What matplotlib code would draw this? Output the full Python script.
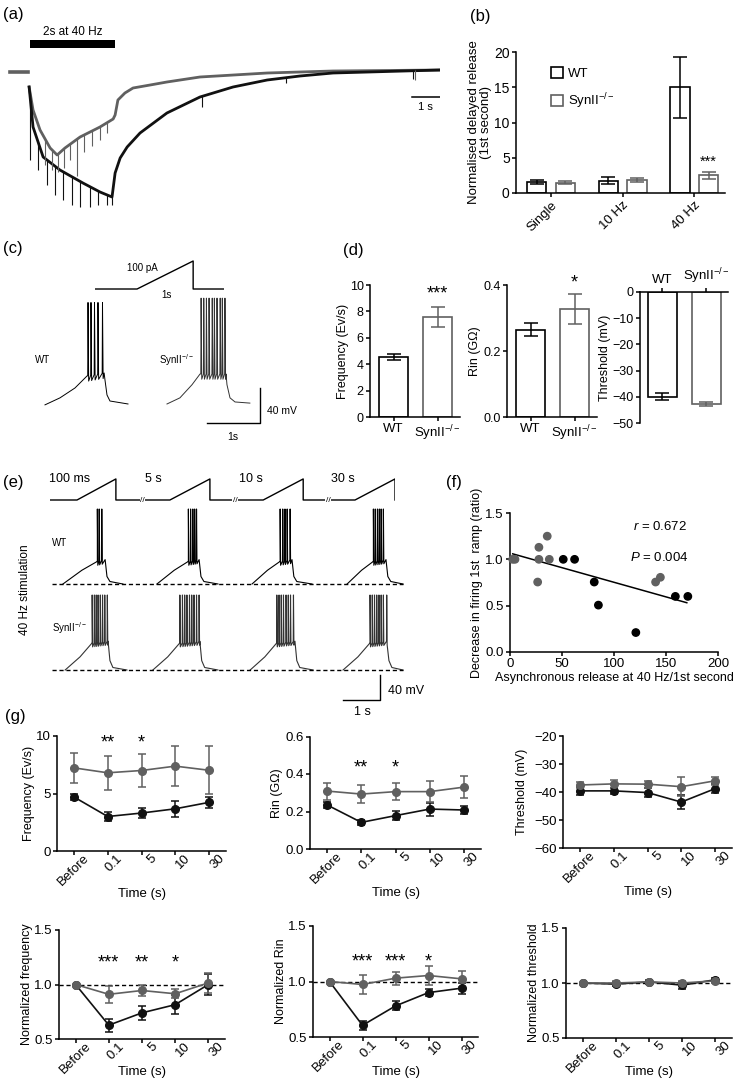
import numpy as np
import matplotlib
matplotlib.use("Agg")
import matplotlib.pyplot as plt
from matplotlib.patches import Patch, Rectangle
from matplotlib.transforms import ScaledTranslation

plt.rcParams["font.family"] = ["Liberation Sans", "DejaVu Sans"]
plt.rcParams["mathtext.fontset"] = "custom"
plt.rcParams["mathtext.rm"] = "Liberation Sans"
plt.rcParams["mathtext.it"] = "Liberation Sans:italic"
plt.rcParams["mathtext.default"] = "regular"
plt.rcParams["font.size"] = 9
plt.rcParams["axes.linewidth"] = 1.1
plt.rcParams["xtick.major.width"] = 1.1
plt.rcParams["ytick.major.width"] = 1.1
plt.rcParams["xtick.major.size"] = 3
plt.rcParams["ytick.major.size"] = 3
plt.rcParams["xtick.major.pad"] = 1.5
plt.rcParams["ytick.major.pad"] = 1.5

W, H = 734, 1082
GRAY = "#606060"
KO = "SynII$^{-/-}$"

# ---------------- data ----------------
# (a) delayed release: key points of the two current traces (s, pA)
A_BASE_T = [0.36, 1.0]
A_GRAY_T = [1.04, 1.18, 1.43, 1.79, 2.04, 2.32, 2.86, 3.57, 4.04, 4.11, 4.21, 4.46, 4.75,
            5.36, 5.96, 7.14, 9.54, 11.89, 15.71]
A_GRAY_I = [-30, -76, -116, -152, -166, -152, -130, -110, -94, -86, -56, -42, -32,
            -26, -20, -10, -2, 2, 4]
A_BLACK_T = [1.04, 1.18, 1.54, 2.14, 2.96, 3.57, 4.0, 4.11, 4.29, 4.54, 5.0, 5.96, 7.14,
             8.32, 9.54, 10.71, 11.89, 15.71]
A_BLACK_I = [-30, -110, -170, -196, -222, -240, -250, -202, -172, -150, -122, -82, -50,
             -30, -16, -8, -2, 4]
# tips of the stimulus artefacts / events
A_GRAY_ART_T = [1.61, 1.86, 2.07, 2.29, 2.5, 2.75, 3.0, 3.29, 3.57, 3.82, 14.82]
A_GRAY_ART_I = [-186, -196, -200, -192, -176, -208, -160, -148, -136, -122, -16]
A_BLACK_ART_T = [1.07, 1.36, 1.68, 1.96, 2.25, 2.57, 2.86, 3.21, 3.5, 3.82, 4.0, 7.21, 10.2, 14.75]
A_BLACK_ART_I = [-176, -196, -226, -246, -256, -266, -270, -270, -266, -266, -266, -70, -22, -14]
A_STIM = (1.07, 4.11)

# (b) normalised delayed release
B_GROUPS = ["Single", "10 Hz", "40 Hz"]
B_WT = [1.55, 1.75, 15.0]
B_WT_ERR = [0.25, 0.5, 4.3]
B_KO = [1.45, 1.85, 2.5]
B_KO_ERR = [0.2, 0.3, 0.5]

# (c) ramp protocol and responses (s, pA / mV)
C_PROT_T = [0, 0.75, 1.75, 1.75, 2.30]
C_PROT_I = [0, 0, 100, 0, 0]
C_WT_T = [0.094, 0.377, 0.66, 0.887, 1.21, 1.226, 1.264, 1.32, 1.66]
C_WT_V = [-71, -63, -51.7, -38, -34.6, -42.6, -59.7, -66.6, -70]
C_WT_SPIKES = [0.906, 0.962, 1.028, 1.094, 1.179]
C_KO_T = [2.396, 2.64, 2.868, 3.02, 3.51, 3.528, 3.585, 3.68, 3.96]
C_KO_V = [-70, -63, -48, -35.7, -35.7, -48, -63, -67.7, -69]
C_KO_SPIKES = [3.04, 3.09, 3.14, 3.19, 3.25, 3.29, 3.34, 3.40, 3.44, 3.49]

# (d) firing properties
D_GENO = ["WT", KO]
D_FREQ = [4.55, 7.6]
D_FREQ_ERR = [0.25, 0.75]
D_RIN = [0.265, 0.327]
D_RIN_ERR = [0.02, 0.045]
D_THR = [-40.0, -42.8]
D_THR_ERR = [1.3, 0.7]

# (e) repeated ramps after 40 Hz stimulation
E_PROT_T = [0, 0.73, 1.78, 1.78, 3.24, 4.32, 4.32, 5.76, 6.84, 6.84, 8.24, 9.32, 9.32]
E_PROT_I = [0, 0, 100, 0, 0, 100, 0, 0, 100, 0, 0, 100, 0]
E_BREAKS = [2.49, 5.0, 7.51]
E_LABELS = ["100 ms", "5 s", "10 s", "30 s"]
E_LABEL_T = [0.54, 2.78, 5.43, 7.92]
E_WT_START = [0.35, 2.89, 5.46, 8.03]
E_WT_DROP = [1.49, 4.03, 6.54, 9.08]
E_WT_END = [1.97, 4.54, 7.08, 9.54]
E_WT_SPIKES = [[1.28, 1.33, 1.40],
               [3.74, 3.80, 3.86, 3.91, 3.96],
               [6.22, 6.29, 6.35, 6.41, 6.49],
               [8.74, 8.79, 8.85, 8.90, 8.95, 9.01]]
E_KO_START = [0.41, 2.78, 5.41, 7.92]
E_KO_DROP = [1.57, 4.05, 6.62, 9.11]
E_KO_END = [2.08, 4.54, 7.11, 9.54]
E_KO_SPIKES = [[1.14, 1.20, 1.25, 1.30, 1.36, 1.42, 1.48, 1.55],
               [3.51, 3.58, 3.64, 3.70, 3.77, 3.83, 3.89, 3.96, 4.03],
               [6.13, 6.19, 6.25, 6.31, 6.38, 6.44, 6.50, 6.58],
               [8.65, 8.71, 8.77, 8.83, 8.89, 8.95, 9.01, 9.10]]
E_WT_SHAPE = [-70, -48, -34, -31, -58, -66, -70]
E_KO_SHAPE = [-70, -49, -27, -24, -55, -66, -70]
E_KO_OFFSET = -137.6

# (f) correlation
F_X = [2.6, 4.8, 27.8, 27.8, 26.6, 35.8, 37.8, 51.2, 62.1, 81, 85, 121, 140, 144.6, 159, 171]
F_Y = [1.0, 1.0, 1.13, 1.0, 0.755, 1.25, 1.0, 1.0, 1.0, 0.755, 0.506, 0.21, 0.755, 0.806, 0.60, 0.60]
F_SHADE = [GRAY] * 7 + ["black"] * 5 + [GRAY] * 2 + ["black"] * 2

# (g) time course
G_TIMES = ["Before", "0.1", "5", "10", "30"]
G_FREQ_WT = [4.7, 3.0, 3.3, 3.67, 4.23]
G_FREQ_WT_ERR = [0.3, 0.35, 0.4, 0.7, 0.45]
G_FREQ_KO = [7.23, 6.8, 7.0, 7.38, 7.02]
G_FREQ_KO_ERR = [1.32, 1.5, 1.46, 1.74, 2.1]
G_RIN_WT = [0.235, 0.142, 0.178, 0.213, 0.208]
G_RIN_WT_ERR = [0.015, 0.012, 0.025, 0.035, 0.022]
G_RIN_KO = [0.309, 0.293, 0.306, 0.306, 0.33]
G_RIN_KO_ERR = [0.045, 0.05, 0.045, 0.055, 0.06]
G_THR_WT = [-39.6, -39.6, -40.2, -43.6, -38.8]
G_THR_WT_ERR = [1.5, 1.0, 1.5, 2.5, 1.5]
G_THR_KO = [-37.5, -37.1, -37.2, -38.1, -36.0]
G_THR_KO_ERR = [1.2, 1.3, 1.3, 3.5, 1.5]
G_NFREQ_WT = [1.0, 0.627, 0.74, 0.815, 1.0]
G_NFREQ_WT_ERR = [0, 0.06, 0.065, 0.09, 0.1]
G_NFREQ_KO = [1.0, 0.91, 0.945, 0.915, 1.015]
G_NFREQ_KO_ERR = [0, 0.08, 0.05, 0.04, 0.09]
G_NRIN_WT = [1.0, 0.605, 0.78, 0.9, 0.94]
G_NRIN_WT_ERR = [0, 0.04, 0.04, 0.03, 0.05]
G_NRIN_KO = [1.0, 0.973, 1.03, 1.054, 1.024]
G_NRIN_KO_ERR = [0, 0.09, 0.06, 0.09, 0.07]
G_NTHR_WT = [1.0, 0.99, 1.01, 0.98, 1.03]
G_NTHR_WT_ERR = [0, 0.02, 0.02, 0.03, 0.015]
G_NTHR_KO = [1.0, 1.0, 1.01, 1.0, 1.02]
G_NTHR_KO_ERR = [0, 0.015, 0.02, 0.02, 0.02]

# ---------------- helpers ----------------
fig = plt.figure(figsize=(W / 100, H / 100), dpi=100)


def box(left, top, right, bottom):
    return fig.add_axes([left / W, 1 - bottom / H, (right - left) / W, (bottom - top) / H])


def ftext(x, y, s, **kw):
    kw.setdefault("ha", "center")
    kw.setdefault("va", "center")
    fig.text(x / W, 1 - y / H, s, **kw)


def prism(ax, size=10):
    ax.spines[["top", "right"]].set_visible(False)
    ax.tick_params(direction="out", labelsize=size)


def label_at(ax, axbox, ylab_x=None, xlab_y=None):
    # centre the axis labels on pixel positions
    left, top, right, bottom = axbox
    if ylab_x is not None:
        ax.yaxis.label.set_va("center")
        ax.yaxis.set_label_coords((ylab_x - left) / (right - left), 0.5)
    if xlab_y is not None:
        ax.xaxis.label.set_va("center")
        ax.xaxis.set_label_coords(0.5, (bottom - xlab_y) / (bottom - top))


def add_spikes(t, v, spikes, peak):
    tt, vv = list(t), list(v)
    for s in spikes:
        b = np.interp(s, t, v)
        tt += [s - 0.006, s, s + 0.012]
        vv += [b, peak, b - 6]
    order = np.argsort(tt)
    return np.array(tt)[order], np.array(vv)[order]


# ---------------- (a) ----------------
ax = box(0, 25, 440, 215)
ax.axis("off")
ax.set_xlim(0, 15.71)
ax.set_ylim(-286, 94)
ax.plot(A_BASE_T, [0, 0], color=GRAY, lw=2.6)
ax.plot(A_GRAY_T, A_GRAY_I, color=GRAY, lw=2.0)
ax.plot(A_BLACK_T, A_BLACK_I, color="#111111", lw=2.0)
ax.vlines(A_GRAY_ART_T, np.interp(A_GRAY_ART_T, A_GRAY_T, A_GRAY_I), A_GRAY_ART_I, color=GRAY, lw=0.8)
ax.vlines(A_BLACK_ART_T, np.interp(A_BLACK_ART_T, A_BLACK_T, A_BLACK_I), A_BLACK_ART_I, color="#111111", lw=0.8)
ax.add_patch(Rectangle((A_STIM[0], 48), A_STIM[1] - A_STIM[0], 16, color="black", lw=0))
ax.text(np.mean(A_STIM), 80, "2s at 40 Hz", ha="center", va="center", fontsize=8.5)
ax.plot([14.71, 15.71], [-50, -50], color="black", lw=1.1)
ax.text(15.2, -60, "1 s", ha="center", va="top", fontsize=8)
ftext(3, 14, "(a)", ha="left", fontsize=12)

# ---------------- (b) ----------------
bbox_b = (516, 52, 725, 193)
ax = box(*bbox_b)
prism(ax)
xb = np.arange(len(B_GROUPS))
ax.bar(xb - 0.2, B_WT, 0.27, facecolor="white", edgecolor="black", lw=1.2)
ax.bar(xb + 0.2, B_KO, 0.27, facecolor="white", edgecolor=GRAY, lw=1.2)
ax.errorbar(xb - 0.2, B_WT, yerr=B_WT_ERR, fmt="none", ecolor="black", capsize=5, elinewidth=1.1, capthick=1.1)
ax.errorbar(xb + 0.2, B_KO, yerr=B_KO_ERR, fmt="none", ecolor=GRAY, capsize=5, elinewidth=1.1, capthick=1.1)
ax.set_xlim(-0.49, 2.43)
ax.set_ylim(0, 20)
ax.set_yticks([0, 5, 10, 15, 20])
ax.set_xticks(xb)
ax.set_xticklabels(B_GROUPS, rotation=45, ha="right", rotation_mode="anchor", fontsize=9.5)
ax.set_ylabel("Normalised delayed release\n(1st second)", fontsize=9.5, linespacing=1.1)
label_at(ax, bbox_b, ylab_x=480)
ax.text(2.2, B_KO[2] + B_KO_ERR[2] + 0.4, "***", ha="center", va="bottom", fontsize=10.5)
ax.legend(handles=[Patch(facecolor="white", edgecolor="black", lw=1.2, label="WT"),
                   Patch(facecolor="white", edgecolor=GRAY, lw=1.2, label=KO)],
          loc="upper left", bbox_to_anchor=(0.11, 0.98), frameon=False, handletextpad=0.4,
          handlelength=0.9, handleheight=0.9, labelspacing=0.9, fontsize=9.5)
ftext(470, 16, "(b)", ha="left", fontsize=12)

# ---------------- (c) ----------------
ax = box(95, 258, 224, 292)
ax.axis("off")
ax.set_xlim(0, 2.30)
ax.set_ylim(-10.7, 110.7)
ax.plot(C_PROT_T, C_PROT_I, color="black", lw=1.0)

ax = box(0, 290, 300, 445)
ax.axis("off")
ax.set_xlim(-0.755, 4.906)
ax.set_ylim(-116.9, 60.3)
t, v = add_spikes(C_WT_T, C_WT_V, C_WT_SPIKES, 46)
ax.plot(t, v, color="black", lw=0.7)
t, v = add_spikes(C_KO_T, C_KO_V, C_KO_SPIKES, 51)
ax.plot(t, v, color="#333333", lw=0.7)
ax.plot([3.15, 4.15, 4.15], [-91.7, -91.7, -51.7], color="black", lw=1.0)
ftext(142, 268, "100 pA", fontsize=7)
ftext(167, 295, "1s", fontsize=7)
ftext(35, 360, "WT", ha="left", fontsize=7)
ftext(159, 360, KO, ha="left", fontsize=7)
ftext(267, 411, "40 mV", ha="left", fontsize=7.5)
ftext(233, 437, "1s", fontsize=7.5)
ftext(3, 249, "(c)", ha="left", fontsize=12)

# ---------------- (d) ----------------
xd = np.arange(2)
bbox_d1 = (370, 285, 460, 417)
ax = box(*bbox_d1)
prism(ax, 9)
ax.bar(xd, D_FREQ, 0.66, facecolor="white", edgecolor=["black", GRAY], lw=1.2)
for i in xd:
    ax.errorbar(i, D_FREQ[i], yerr=D_FREQ_ERR[i], fmt="none", ecolor=["black", GRAY][i], capsize=5, elinewidth=1.1, capthick=1.1)
ax.set_xlim(-0.534, 1.511)
ax.set_ylim(0, 10)
ax.set_yticks([0, 2, 4, 6, 8, 10])
ax.set_xticks(xd)
ax.set_xticklabels(D_GENO, fontsize=9.5)
ax.set_ylabel("Frequency (Ev/s)", fontsize=9)
label_at(ax, bbox_d1, ylab_x=343)
ax.text(1, D_FREQ[1] + D_FREQ_ERR[1] + 0.3, "***", ha="center", va="bottom", fontsize=13)

bbox_d2 = (507, 285, 597, 417)
ax = box(*bbox_d2)
prism(ax, 9)
ax.bar(xd, D_RIN, 0.66, facecolor="white", edgecolor=["black", GRAY], lw=1.2)
for i in xd:
    ax.errorbar(i, D_RIN[i], yerr=D_RIN_ERR[i], fmt="none", ecolor=["black", GRAY][i], capsize=5, elinewidth=1.1, capthick=1.1)
ax.set_xlim(-0.534, 1.511)
ax.set_ylim(0, 0.4)
ax.set_yticks([0.0, 0.2, 0.4])
ax.set_yticklabels(["0.0", "0.2", "0.4"])
ax.set_xticks(xd)
ax.set_xticklabels(D_GENO, fontsize=9.5)
ax.set_ylabel("Rin (GΩ)", fontsize=9)
label_at(ax, bbox_d2, ylab_x=475)
ax.text(1, D_RIN[1] + D_RIN_ERR[1] + 0.008, "*", ha="center", va="bottom", fontsize=13)

bbox_d3 = (640, 292, 728, 423)
ax = box(*bbox_d3)
ax.spines[["bottom", "right"]].set_visible(False)
ax.tick_params(direction="out", labelsize=9)
ax.xaxis.tick_top()
ax.bar(xd, D_THR, 0.66, facecolor="white", edgecolor=["black", GRAY], lw=1.2)
for i in xd:
    ax.errorbar(i, D_THR[i], yerr=D_THR_ERR[i], fmt="none", ecolor=["black", GRAY][i], capsize=5, elinewidth=1.1, capthick=1.1)
ax.set_xlim(-0.51, 1.49)
ax.set_ylim(-50, 0)
ax.set_yticks([0, -10, -20, -30, -40, -50])
ax.set_xticks(xd)
ax.set_xticklabels(D_GENO, fontsize=9.5)
ax.set_ylabel("Threshold (mV)", fontsize=9)
label_at(ax, bbox_d3, ylab_x=605)
ftext(343, 251, "(d)", ha="left", fontsize=12)

# ---------------- (e) ----------------
ax = box(50, 476, 395, 502)
ax.axis("off")
ax.set_xlim(0, 9.32)
ax.set_ylim(-9.5, 114)
ax.plot(E_PROT_T, E_PROT_I, color="black", lw=1.0)
for b in E_BREAKS:
    ax.text(b, 0, "//", ha="center", va="center", fontsize=6,
            bbox=dict(facecolor="white", edgecolor="none", pad=0.2))
for tl, lab in zip(E_LABEL_T, E_LABELS):
    ax.text(tl, 100, lab, ha="center", va="center", fontsize=9)

ax = box(0, 500, 440, 720)
ax.axis("off")
ax.set_xlim(-1.351, 10.54)
ax.set_ylim(-287.6, 64.4)
for rows, color, off, shape, peak in [
        ((E_WT_START, E_WT_SPIKES, E_WT_DROP, E_WT_END), "black", 0, E_WT_SHAPE, 50),
        ((E_KO_START, E_KO_SPIKES, E_KO_DROP, E_KO_END), "#333333", E_KO_OFFSET, E_KO_SHAPE, 50)]:
    for s0, sp, dr, en in zip(*rows):
        tk = [s0, s0 + 0.55 * (sp[0] - s0), sp[0], dr, dr + 0.05, dr + 0.13, en]
        t, v = add_spikes(tk, shape, sp, peak)
        ax.plot(t, v + off, color=color, lw=0.8)
    ax.plot([0.054, 9.54], [-70 + off, -70 + off], color="black", lw=1.0, ls=(0, (3, 2)))
ax.plot([7.92, 8.92, 8.92], [-255.6, -255.6, -215.6], color="black", lw=1.0)
ftext(388, 691, "40 mV", ha="left", fontsize=9)
ftext(362, 712, "1 s", fontsize=9)
ftext(52, 543, "WT", ha="left", fontsize=7)
ftext(52, 628, KO, ha="left", fontsize=7)
ftext(25, 590, "40 Hz stimulation", rotation=90, fontsize=8.5)
ftext(3, 482, "(e)", ha="left", fontsize=12)

# ---------------- (f) ----------------
bbox_f = (510, 513, 718, 652)
ax = box(*bbox_f)
prism(ax, 9.5)
ax.scatter(F_X, F_Y, s=28, c=F_SHADE, zorder=3, clip_on=False)
slope, icpt = np.polyfit(F_X, F_Y, 1)
fx = np.array([min(F_X), max(F_X) - 1])
ax.plot(fx, slope * fx + icpt, color="black", lw=1.1)
ax.set_xlim(0, 200)
ax.set_ylim(0, 1.5)
ax.set_xticks([0, 50, 100, 150, 200])
ax.set_yticks([0.0, 0.5, 1.0, 1.5])
ax.set_yticklabels(["0.0", "0.5", "1.0", "1.5"])
ax.set_xlabel("Asynchronous release at 40 Hz/1st second", fontsize=9)
ax.set_ylabel("Decrease in firing 1st  ramp (ratio)", fontsize=9)
label_at(ax, bbox_f, ylab_x=477, xlab_y=678)
ax.text(0.72, 0.9, r"$\mathit{r}$ = 0.672", transform=ax.transAxes, ha="center", va="center", fontsize=9.5)
ax.text(0.72, 0.68, r"$\mathit{P}$ = 0.004", transform=ax.transAxes, ha="center", va="center", fontsize=9.5)
ftext(446, 482, "(f)", ha="left", fontsize=12)


# ---------------- (g) ----------------
def time_panel(axbox, wt, wt_err, ko, ko_err, ylim, yticks, ylabels, ylabel, ylab_x, xlab_y,
               stars=None, star_y=None, ref=False):
    ax = box(*axbox)
    prism(ax, 9.5)
    x = np.arange(len(G_TIMES))
    if ref:
        ax.axhline(1.0, color="black", lw=1.0, ls=(0, (3, 2)), zorder=1)
    ax.errorbar(x, wt, yerr=wt_err, color="#111111", marker="o", ms=5.5, lw=1.2,
                capsize=3, capthick=1.1, elinewidth=1.1, zorder=3)
    ax.errorbar(x, ko, yerr=ko_err, color=GRAY, marker="o", ms=5.5, lw=1.2,
                capsize=3, capthick=1.1, elinewidth=1.1, zorder=3)
    ax.set_xlim(-0.5, 4.5)
    ax.set_ylim(*ylim)
    ax.set_yticks(yticks)
    ax.set_yticklabels(ylabels)
    ax.set_xticks(x)
    ax.set_xticklabels(G_TIMES, rotation=45, ha="right", rotation_mode="anchor", fontsize=9.5)
    shift = ScaledTranslation(0.09, 0.05, fig.dpi_scale_trans)
    for lab in ax.get_xticklabels():
        lab.set_transform(lab.get_transform() + shift)
    ax.set_xlabel("Time (s)", fontsize=9.5)
    ax.set_ylabel(ylabel, fontsize=9)
    label_at(ax, axbox, ylab_x=ylab_x, xlab_y=xlab_y)
    if stars:
        for xi, s in stars:
            ax.text(xi, star_y, s, ha="center", va="center", fontsize=13)
    return ax


time_panel((57, 736, 226, 851), G_FREQ_WT, G_FREQ_WT_ERR, G_FREQ_KO, G_FREQ_KO_ERR,
           (0, 10), [0, 5, 10], ["0", "5", "10"], "Frequency (Ev/s)", 29, 894,
           [(1, "**"), (2, "*")], 9.4)
time_panel((310, 736.5, 481, 849), G_RIN_WT, G_RIN_WT_ERR, G_RIN_KO, G_RIN_KO_ERR,
           (0, 0.6), [0, 0.2, 0.4, 0.6], ["0.0", "0.2", "0.4", "0.6"], "Rin (GΩ)", 277, 893,
           [(1, "**"), (2, "*")], 0.43)
time_panel((563, 736, 732, 848), G_THR_WT, G_THR_WT_ERR, G_THR_KO, G_THR_KO_ERR,
           (-60, -20), [-60, -50, -40, -30, -20], ["−60", "−50", "−40", "−30", "−20"],
           "Threshold (mV)", 522, 892)
time_panel((59, 930, 225, 1039), G_NFREQ_WT, G_NFREQ_WT_ERR, G_NFREQ_KO, G_NFREQ_KO_ERR,
           (0.5, 1.5), [0.5, 1.0, 1.5], ["0.5", "1.0", "1.5"], "Normalized frequency", 27, 1072,
           [(1, "***"), (2, "**"), (3, "*")], 1.2, ref=True)
time_panel((313, 926, 478, 1037), G_NRIN_WT, G_NRIN_WT_ERR, G_NRIN_KO, G_NRIN_KO_ERR,
           (0.5, 1.5), [0.5, 1.0, 1.5], ["0.5", "1.0", "1.5"], "Normalized Rin", 281, 1072,
           [(1, "***"), (2, "***"), (3, "*")], 1.18, ref=True)
time_panel((566, 928, 732, 1038), G_NTHR_WT, G_NTHR_WT_ERR, G_NTHR_KO, G_NTHR_KO_ERR,
           (0.5, 1.5), [0.5, 1.0, 1.5], ["0.5", "1.0", "1.5"], "Normalized threshold", 534, 1072,
           ref=True)
ftext(5, 716, "(g)", ha="left", fontsize=12)

fig.savefig("out.png", dpi=100)
plt.close(fig)
